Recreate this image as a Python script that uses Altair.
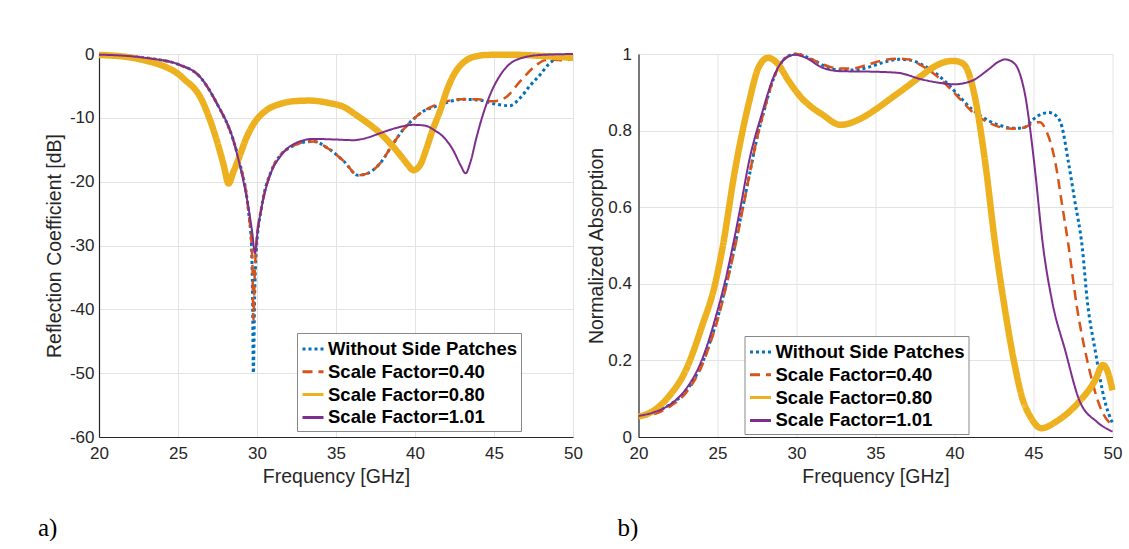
import altair as alt
import pandas as pd

# ---------------- series names / styles ----------------
names = ["Without Side Patches", "Scale Factor=0.40", "Scale Factor=0.80", "Scale Factor=1.01"]
colors = ["#0072BD", "#D95319", "#EDB120", "#7E2F8E"]
dashes = [[3, 3], [10, 6], [1, 0], [1, 0]]
widths = [3, 2.5, 6.5, 2]

# ---------------- a) Reflection coefficient [dB] ----------------
s11_f_without = [20, 22, 23.2, 25.1, 26.4, 27.45, 28.5, 29.0, 29.3, 29.5, 29.65, 29.72, 29.77, 29.85, 29.95,
                 30.3, 30.93, 31.5, 32.2, 33.0, 33.6, 34.5, 35.5, 36.4, 37.0, 37.8, 38.5, 39.2, 39.9, 40.5,
                 41.2, 42.0, 43.0, 44.0, 45.2, 46.0, 46.65, 47.3, 47.9, 48.5, 49.0, 49.5, 50]
s11_without = [-0.1, -0.35, -0.7, -1.7, -3.6, -7.7, -13.5, -18.0, -21.5, -25.5, -30.0, -38.0, -50.0, -38.0, -31.0,
               -23.9, -18.2, -15.8, -14.5, -13.8, -13.7, -14.8, -16.8, -19.0, -18.7, -17.1, -14.5, -12.0, -10.2, -9.0,
               -8.3, -7.6, -7.1, -7.2, -7.9, -8.1, -6.9, -4.9, -3.3, -1.5, -0.7, -0.4, -0.5]

s11_f_040 = [20, 22, 23.2, 25.1, 26.4, 27.45, 28.5, 29.0, 29.3, 29.5, 29.65, 29.72, 29.77, 29.85, 29.95,
             30.3, 30.93, 31.5, 32.2, 33.0, 33.6, 34.5, 35.5, 36.4, 37.0, 37.8, 38.5, 39.2, 39.9, 40.5,
             41.2, 42.0, 43.0, 44.0, 44.75, 45.3, 45.8, 46.65, 47.7, 48.2, 48.8, 49.4, 50]
s11_040 = [-0.1, -0.35, -0.7, -1.7, -3.6, -7.7, -13.5, -18.0, -21.5, -25.5, -29.5, -34.0, -41.7, -35.0, -30.0,
           -23.9, -18.2, -15.8, -14.5, -13.8, -13.7, -14.8, -16.8, -19.0, -18.7, -17.1, -14.5, -12.0, -10.2, -9.0,
           -8.1, -7.4, -7.1, -7.1, -7.4, -7.3, -6.7, -4.3, -1.7, -1.0, -0.9, -1.0, -0.8]

s11_f_080 = [20, 22, 23.2, 24, 25.1, 25.5, 26, 26.4, 26.9, 27.45, 27.9, 28.2, 28.5, 28.9, 29.3, 29.8, 30.6,
             31.5, 32.3, 33.3, 34.6, 35.5, 36.3, 37.1, 37.8, 38.5, 39.05, 39.5, 39.9, 40.3, 40.7, 41.1,
             41.6, 42.0, 42.4, 42.8, 43.3, 44.0, 44.5, 46, 48, 50]
s11_080 = [-0.15, -0.55, -1.2, -1.8, -3.3, -4.2, -5.3, -6.7, -9.5, -13.5, -17.5, -20.3, -18.5, -16.0, -13.3, -10.9, -8.8,
           -7.8, -7.4, -7.3, -7.7, -8.3, -9.6, -11.0, -12.4, -14.2, -15.8, -17.2, -18.2, -17.5, -15.0, -12.0,
           -8.8, -5.8, -3.5, -2.0, -0.9, -0.3, -0.15, -0.1, -0.3, -0.6]

s11_f_101 = [20, 22, 23.2, 25.1, 26.4, 27.45, 28.5, 29.03, 29.45, 29.7, 29.87, 30.05, 30.3, 30.9, 31.46, 32.2,
             33.56, 35.0, 36.1, 37.0, 37.8, 38.8, 39.9, 40.6, 41.2, 41.8, 42.4, 42.9, 43.2, 43.5, 43.9, 44.3,
             44.75, 45.4, 46.4, 47.9, 50]
s11_101 = [-0.1, -0.35, -0.7, -1.7, -3.6, -7.7, -13.5, -18.7, -23.9, -28.0, -31.2, -27.5, -23.9, -18.5, -16.1, -14.3,
           -13.3, -13.4, -13.5, -13.1, -12.4, -11.6, -11.1, -11.2, -11.9, -13.0, -15.0, -17.5, -18.7, -17.0, -13.0, -9.5,
           -6.4, -3.3, -0.94, -0.16, 0.0]

# ---------------- b) Normalized absorption ----------------
abs_f_without = [20, 21, 22, 23, 24, 24.5, 25, 25.5, 26, 26.5, 27, 27.5, 28, 28.5, 29, 29.5, 30, 31, 32, 32.7,
                 33.5, 34.5, 35.5, 36.5, 37.2, 37.9, 38.8, 39.6, 40.4, 41.1, 42.2, 43.0, 43.7, 44.4, 45.0, 45.5,
                 46.0, 46.4, 46.8, 47.2, 47.6, 48.1, 48.4, 48.9, 49.5, 50]
abs_without = [0.055, 0.065, 0.085, 0.12, 0.19, 0.245, 0.31, 0.39, 0.48, 0.58, 0.68, 0.78, 0.86, 0.93, 0.975, 0.995,
               1.0, 0.985, 0.965, 0.958, 0.958, 0.965, 0.978, 0.986, 0.984, 0.973, 0.95, 0.921, 0.885, 0.856, 0.825,
               0.812, 0.806, 0.808, 0.83, 0.843, 0.847, 0.84, 0.81, 0.72, 0.62, 0.49, 0.357, 0.227, 0.096, 0.036]

abs_f_040 = [20, 21, 22, 23, 24, 24.5, 25, 25.5, 26, 26.5, 27, 27.5, 28, 28.5, 29, 29.5, 30, 31, 32, 32.7,
             33.5, 34.5, 35.5, 36.5, 37.2, 37.9, 38.8, 39.6, 40.4, 41.1, 42.2, 43.0, 43.7, 44.4, 45.0, 45.4,
             45.8, 46.4, 46.8, 47.2, 47.75, 48.4, 49.3, 50]
abs_040 = [0.05, 0.06, 0.08, 0.115, 0.185, 0.24, 0.305, 0.385, 0.475, 0.575, 0.68, 0.78, 0.86, 0.93, 0.975, 0.995,
           1.0, 0.985, 0.968, 0.962, 0.962, 0.972, 0.984, 0.988, 0.985, 0.97, 0.945, 0.915, 0.88, 0.85, 0.82,
           0.808, 0.805, 0.808, 0.82, 0.822, 0.8, 0.713, 0.609, 0.504, 0.339, 0.2, 0.07, 0.03]

abs_f_080 = [20, 21, 21.9, 23, 24, 24.85, 25.3, 26.1, 27, 27.6, 28.2, 28.8, 29.5, 30.3, 31.0, 31.6, 32.8, 34.0,
             35.0, 36.0, 36.9, 37.8, 38.6, 39.3, 39.9, 40.4, 40.8, 41.3, 41.9, 42.6, 43.1, 43.8, 44.3, 44.8,
             45.5, 46.5, 47.8, 48.9, 49.4, 49.7, 50]
abs_080 = [0.053, 0.07, 0.105, 0.175, 0.287, 0.4, 0.49, 0.695, 0.875, 0.965, 0.99, 0.975, 0.93, 0.886, 0.86, 0.843,
           0.815, 0.83, 0.855, 0.885, 0.912, 0.94, 0.964, 0.978, 0.982, 0.978, 0.96, 0.886, 0.73, 0.496, 0.357,
           0.19, 0.1, 0.053, 0.023, 0.042, 0.088, 0.148, 0.188, 0.17, 0.122]

abs_f_101 = [20, 21, 22, 23, 24, 25, 25.5, 26, 26.5, 27, 27.8, 28.6, 29.2, 29.9, 30.6, 31.6, 32.8, 34.6, 36.4,
             37.9, 39.0, 40.0, 41.1, 42.1, 42.8, 43.2, 43.8, 44.2, 44.5, 44.8, 45.1, 45.6, 46.2, 47.0, 47.9,
             49.0, 50]
abs_101 = [0.055, 0.065, 0.085, 0.125, 0.2, 0.33, 0.41, 0.505, 0.61, 0.72, 0.843, 0.945, 0.985, 0.998, 0.99, 0.965,
           0.955, 0.954, 0.951, 0.934, 0.925, 0.921, 0.93, 0.958, 0.98, 0.986, 0.975, 0.94, 0.886, 0.8, 0.695, 0.5,
           0.35, 0.227, 0.096, 0.04, 0.014]

x_ticks = [20, 25, 30, 35, 40, 45, 50]
y_ticks_a = [0, -10, -20, -30, -40, -50, -60]
y_ticks_b = [0, 0.2, 0.4, 0.6, 0.8, 1]


def make_df(pairs):
    frames = []
    for name, (fs, vs) in zip(names, pairs):
        frames.append(pd.DataFrame({"f": fs, "v": vs, "series": name}))
    return pd.concat(frames, ignore_index=True)


df_a = make_df([(s11_f_without, s11_without), (s11_f_040, s11_040),
                (s11_f_080, s11_080), (s11_f_101, s11_101)])
df_b = make_df([(abs_f_without, abs_without), (abs_f_040, abs_040),
                (abs_f_080, abs_080), (abs_f_101, abs_101)])

FONT = "Liberation Sans"


def panel(df, ytitle, ydomain, yticks, label, label_dx, lx, ly, ylabpad, ytitlepad):
    leg = alt.Legend(title=None, orient="none", legendX=lx, legendY=ly,
                     symbolType="stroke", symbolSize=441, symbolStrokeWidth=3,
                     labelFont=FONT, labelFontWeight="bold", labelFontSize=18.5, labelLimit=400,
                     labelColor="#000000", labelOffset=3, rowPadding=0.8,
                     fillColor="#ffffff", strokeColor="#888888", padding=4)
    base = alt.Chart(df).encode(
        x=alt.X("f:Q", scale=alt.Scale(domain=[20, 50], nice=False, zero=False),
                axis=alt.Axis(values=x_ticks, title="Frequency [GHz]", labelExpr="'' + datum.value",
                              labelFlush=False)),
        y=alt.Y("v:Q", scale=alt.Scale(domain=ydomain, nice=False, zero=False),
                axis=alt.Axis(values=yticks, title=ytitle, labelExpr="'' + datum.value",
                              labelFlush=False, labelPadding=ylabpad, titlePadding=ytitlepad)),
        color=alt.Color("series:N", scale=alt.Scale(domain=names, range=colors), legend=leg),
        strokeDash=alt.StrokeDash("series:N", scale=alt.Scale(domain=names, range=dashes), legend=leg),
    )
    layers = []
    for name, w in zip(names, widths):
        layers.append(base.transform_filter(alt.datum.series == name)
                      .mark_line(strokeWidth=w, interpolate="monotone", strokeCap="butt"))
    return alt.layer(*layers).properties(
        width=474, height=383,
        title=alt.TitleParams(label, orient="bottom", anchor="start", frame="group", dx=label_dx, offset=30,
                              font="Liberation Serif", fontSize=25, fontWeight="normal", color="#000000"),
    )


left = panel(df_a, "Reflection Coefficient [dB]", [-60, 0], y_ticks_a, "a)", -61, 198, 279, 5, 5)
right = panel(df_b, "Normalized Absorption", [0, 1], y_ticks_b, "b)", -21, 106, 282, 7, 1)

chart = alt.hconcat(left, right, spacing=0.5).resolve_scale(
    color="independent", strokeDash="independent"
).resolve_legend(
    color="independent", strokeDash="independent"
).properties(
    padding={"left": 38, "top": 41, "right": 0, "bottom": 0},
    background="#ffffff",
).configure_view(stroke=None).configure_axis(
    grid=True, gridColor="#e3e3e3", gridWidth=1,
    domainColor="#262626", domainWidth=1.2, ticks=False,
    labelFont=FONT, labelFontSize=17, labelColor="#262626", labelPadding=8,
    titleFont=FONT, titleFontSize=19.5, titleFontWeight="normal", titleColor="#262626", titlePadding=6,
)

chart.save("out.html", embed_options={"renderer": "svg", "actions": False})
